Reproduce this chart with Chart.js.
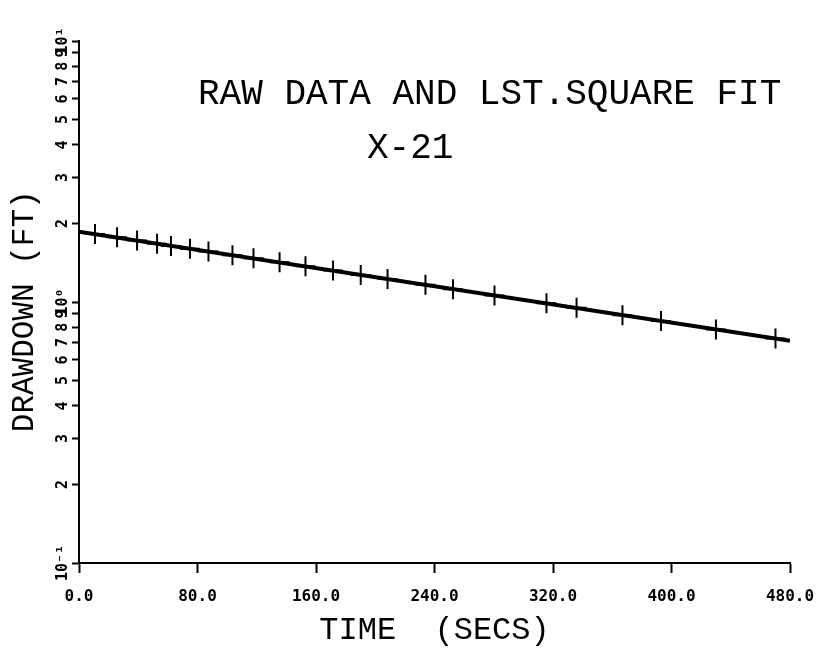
<!DOCTYPE html>
<html>
<head>
<meta charset="utf-8">
<script src="https://cdn.jsdelivr.net/npm/chart.js@4.4.0/dist/chart.umd.min.js"></script>
<style>
  html, body { margin: 0; background: #fff; }
  #wrap { width: 835px; height: 658px; }
</style>
</head>
<body>
<div id="wrap"><canvas id="drawdownChart"></canvas></div>
<script>
// raw readings (time in secs, drawdown in ft)
const timeSecs = [10.8, 25.7, 39.2, 52.7, 62.1, 74.9, 87.4, 103.6, 117.8, 135.4, 152.9, 171.5,
                  190.2, 208.3, 233.9, 252.5, 280.5, 315.6, 335.9, 366.9, 392.9, 430.0, 470.2];
const drawdownFt = [1.82, 1.77, 1.72, 1.67, 1.64, 1.60, 1.56, 1.51, 1.47, 1.42, 1.37, 1.32,
                    1.27, 1.225, 1.165, 1.12, 1.06, 0.99, 0.95, 0.89, 0.845, 0.785, 0.725];
// least square fit line end points
const fitTimes = [0, 480];
const fitDrawdown = [1.86, 0.71];
const xTicks = [0, 80, 160, 240, 320, 400, 480];
const yTicks = [0.1, 0.2, 0.3, 0.4, 0.5, 0.6, 0.7, 0.8, 0.9,
                1, 2, 3, 4, 5, 6, 7, 8, 9, 10];
const titleLines = ['RAW DATA AND LST.SQUARE FIT', 'X-21'];

const sup = {'-': '\u207B', '0': '\u2070', '1': '\u00B9'};

// titles are written inside the plot frame, like the plotter did
const plotTitle = {
    id: 'plotTitle',
    afterDatasetsDraw(chart) {
        const ctx = chart.ctx;
        const a = chart.chartArea;
        ctx.save();
        ctx.fillStyle = '#000';
        ctx.font = '36px "Liberation Mono"';
        ctx.textBaseline = 'alphabetic';
        ctx.textAlign = 'left';
        ctx.fillText(titleLines[0], a.left + 119, a.top + 63);
        ctx.fillText(titleLines[1], a.left + 288, a.top + 117);
        ctx.restore();
    }
};

new Chart(document.getElementById('drawdownChart'), {
    type: 'scatter',
    data: {
        datasets: [
            {
                label: 'raw data',
                data: timeSecs.map((t, i) => ({x: t, y: drawdownFt[i]})),
                pointStyle: 'cross',
                pointRadius: 10,
                borderColor: '#000',
                borderWidth: 2
            },
            {
                label: 'lst. square fit',
                data: fitTimes.map((t, i) => ({x: t, y: fitDrawdown[i]})),
                showLine: true,
                pointRadius: 0,
                borderColor: '#000',
                borderWidth: 4
            }
        ]
    },
    options: {
        responsive: true,
        maintainAspectRatio: false,
        animation: false,
        layout: { padding: { top: 41, right: 45, left: 0, bottom: 0 } },
        plugins: {
            legend: { display: false },
            tooltip: { enabled: false }
        },
        scales: {
            x: {
                type: 'linear',
                min: 0,
                max: 480,
                afterBuildTicks: (scale) => { scale.ticks = xTicks.map(v => ({value: v})); },
                afterFit: (scale) => { scale.height = 95; },
                ticks: {
                    callback: (v) => Number(v).toFixed(1),
                    color: '#000',
                    font: { family: 'DejaVu Sans Mono', size: 16, weight: 'bold' },
                    padding: 14,
                    maxRotation: 0
                },
                grid: { drawOnChartArea: false, tickLength: 10, tickWidth: 2, tickColor: '#000' },
                border: { color: '#000', width: 2 },
                title: {
                    display: true,
                    text: 'TIME  (SECS)',
                    color: '#000',
                    font: { family: 'Liberation Mono', size: 32 },
                    padding: { top: 0, bottom: 8 }
                }
            },
            y: {
                type: 'logarithmic',
                min: 0.1,
                max: 10,
                afterBuildTicks: (scale) => { scale.ticks = yTicks.map(v => ({value: v})); },
                afterFit: (scale) => { scale.width = 79; },
                ticks: {
                    autoSkip: false,
                    minRotation: 90,
                    maxRotation: 90,
                    crossAlign: 'center',
                    padding: -9,
                    color: '#000',
                    font: { family: 'DejaVu Sans Mono', size: 15, weight: 'bold' },
                    callback: (v) => {
                        const e = Math.floor(Math.log10(v) + 1e-9);
                        const m = Math.round(v / Math.pow(10, e));
                        if (m === 1) return '10' + String(e).split('').map(c => sup[c]).join('');
                        return String(m);
                    }
                },
                grid: { drawOnChartArea: false, tickLength: 7, tickWidth: 2, tickColor: '#000' },
                border: { color: '#000', width: 2 },
                title: {
                    display: true,
                    text: 'DRAWDOWN (FT) ',
                    color: '#000',
                    font: { family: 'Liberation Mono', size: 31 },
                    padding: { top: 6, bottom: 0 }
                }
            }
        }
    },
    plugins: [plotTitle]
});
</script>
</body>
</html>
